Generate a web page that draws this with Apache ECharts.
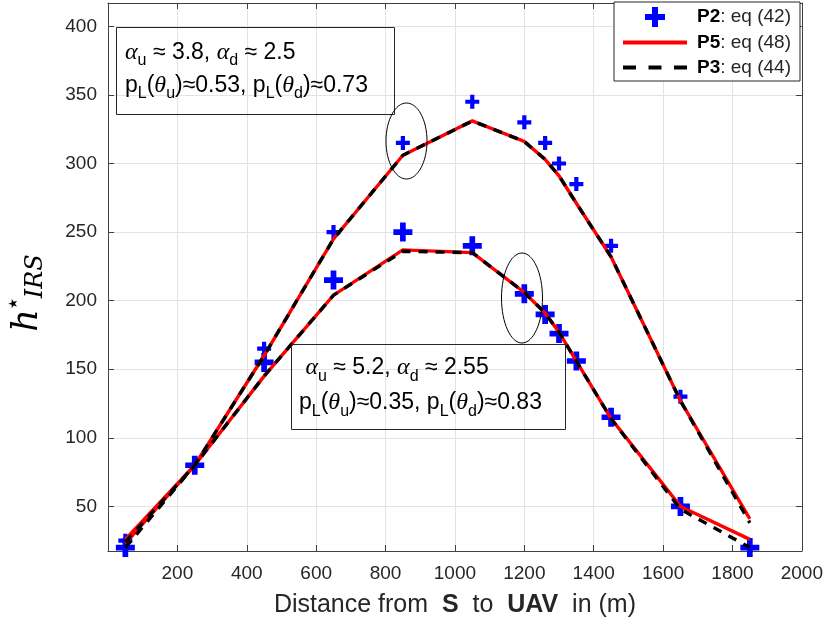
<!DOCTYPE html>
<html><head><meta charset="utf-8">
<script src="https://cdn.jsdelivr.net/npm/echarts@6/dist/echarts.min.js"></script>
<style>html,body{margin:0;padding:0;background:#fff}#c{width:826px;height:628px}</style>
</head><body><div id="c"></div>
<script>
// ---- data ----
const distance = [50, 250, 450, 650, 850, 1050, 1200, 1260, 1300, 1350, 1450, 1650, 1850];
const p2Upper = [25, 80, 165, 250, 315, 345, 330, 315, 300, 285, 240, 130, null];
const p2Lower = [20, 80, 155, 215, 250, 240, 205, 190, 176, 156, 115, 50, 20];
const p5Upper = [26, 80, 160, 245, 306, 331, 316, 303, 291, 271, 232, 127, 41];
const p5Lower = [23, 80, 145, 204, 237, 235, 206, 191, 177, 156, 114, 50, 26];
const p3Upper = [24, 80, 160, 245, 306, 331, 316, 303, 291, 271, 232, 127, 38];
const p3Lower = [20, 80, 145, 204, 236, 235, 206, 191, 177, 156, 114, 48, 20];
const legendNames = ['P2', 'P5', 'P3'];
const legendEqs = ['42', '48', '44'];
const xRange = [0, 2000];
const yRange = [17.5, 417];

const pairs = arr => distance.map((x, i) => [x, arr[i]]).filter(p => p[1] != null);
const PLUS = 'path://M3.5,0H6.5V3.5H10V6.5H6.5V10H3.5V6.5H0V3.5H3.5Z';
const SANS = 'Liberation Sans';
const SERIF = 'Liberation Serif';
const MATH = 'DejaVu Serif';
const AX = '#404040';

const chart = echarts.init(document.getElementById('c'), null, {renderer: 'canvas'});

const lineSeries = (name, data, color, width, type, z) => ({
  name, type: 'line', data, symbol: 'none', z, silent: true,
  lineStyle: {color, width, type, cap: 'butt', join: 'miter'},
  itemStyle: {color}
});

const axisCommon = {
  axisLine: {show: true, onZero: false, lineStyle: {color: AX, width: 1}},
  axisTick: {show: true, inside: true, length: 6, lineStyle: {color: AX}},
};
const plain = v => String(v);

chart.setOption({
  animation: false,
  backgroundColor: '#fff',
  grid: {left: 108, right: 24, top: 3, bottom: 77, containLabel: false},
  xAxis: [{
    type: 'value', min: xRange[0], max: xRange[1], interval: 200, position: 'bottom',
    ...axisCommon,
    splitLine: {show: true, lineStyle: {color: '#e3e3e3', width: 1}},
    axisLabel: {show: true, showMinLabel: false, margin: 13, color: '#262626', fontSize: 19, fontFamily: SANS, formatter: plain},
    name: '{n|Distance from  }{b|S}{n|  to  }{b|UAV}{n|  in (m)}',
    nameLocation: 'middle', nameGap: 42,
    nameTextStyle: {rich: {
      n: {fontSize: 25, fontFamily: SANS, color: '#262626'},
      b: {fontSize: 25, fontFamily: SANS, fontWeight: 'bold', color: '#262626'}
    }}
  }, {
    type: 'value', min: xRange[0], max: xRange[1], interval: 200, position: 'top',
    ...axisCommon, splitLine: {show: false}, axisLabel: {show: false}
  }],
  yAxis: [{
    type: 'value', min: yRange[0], max: yRange[1], splitNumber: 8, position: 'left',
    ...axisCommon,
    splitLine: {show: true, lineStyle: {color: '#e3e3e3', width: 1}},
    axisLabel: {show: true, showMinLabel: false, showMaxLabel: false, margin: 11, color: '#262626', fontSize: 19, fontFamily: SANS, formatter: plain}
  }, {
    type: 'value', min: yRange[0], max: yRange[1], splitNumber: 8, position: 'right',
    ...axisCommon, splitLine: {show: false}, axisLabel: {show: false}
  }],
  legend: {
    data: [
      {name: 'P2', icon: PLUS},
      {name: 'P5', itemStyle: {opacity: 0}, lineStyle: {width: 4, color: '#ff0000'}},
      {name: 'P3', itemStyle: {opacity: 0}, lineStyle: {width: 4, color: '#000000', type: [13, 12.5], cap: 'butt'}}
    ],
    orient: 'vertical', left: 614, top: 2,
    itemWidth: 64, itemHeight: 20, itemGap: 6,
    backgroundColor: '#fff', borderColor: '#262626', borderWidth: 1, borderRadius: 0,
    padding: [5, 9, 4, 7],
    selectedMode: false,
    formatter: n => `{b|${n}}{r|: eq (${legendEqs[legendNames.indexOf(n)]})}`,
    textStyle: {rich: {
      b: {fontSize: 19, fontFamily: SANS, fontWeight: 'bold', color: '#000', padding: [0, 0, 0, 5]},
      r: {fontSize: 19, fontFamily: SANS, color: '#262626'}
    }}
  },
  series: [
    {name: 'P2', type: 'scatter', data: pairs(p2Upper), symbol: PLUS, symbolSize: 14, z: 2, itemStyle: {color: '#0000ff', opacity: 1}, silent: true},
    {name: 'P2', type: 'scatter', data: pairs(p2Lower), symbol: PLUS, symbolSize: 19, z: 2, itemStyle: {color: '#0000ff', opacity: 1}, silent: true},
    lineSeries('P5', pairs(p5Upper), '#ff0000', 3.4, 'solid', 3),
    lineSeries('P5', pairs(p5Lower), '#ff0000', 3.4, 'solid', 3),
    lineSeries('P3', pairs(p3Upper), '#000000', 3.4, [9, 8], 4),
    lineSeries('P3', pairs(p3Lower), '#000000', 3.4, [9, 8], 4)
  ],
  graphic: [
    // annotation boxes
    {type: 'rect', shape: {x: 116.5, y: 27.5, width: 278, height: 87}, style: {fill: 'none', stroke: '#262626', lineWidth: 1}, z: 10, silent: true},
    {type: 'text', x: 125, y: 36, z: 11, silent: true, style: {
      text: '{g|α}{s|u}{t| ≈ 3.8, }{g|α}{s|d}{t| ≈ 2.5}\n{t|p}{s|L}{t|(}{g|θ}{s|u}{t|)≈0.53, p}{s|L}{t|(}{g|θ}{s|d}{t|)≈0.73}',
      rich: {
        t: {fontSize: 23, fontFamily: SANS, fill: '#000', lineHeight: 33},
        g: {fontSize: 24, fontFamily: SERIF, fontStyle: 'italic', fill: '#000', lineHeight: 33},
        s: {fontSize: 16, fontFamily: SANS, fill: '#000', lineHeight: 14, verticalAlign: 'bottom'}
      }
    }},
    {type: 'rect', shape: {x: 291.5, y: 344.5, width: 274, height: 85}, style: {fill: 'none', stroke: '#262626', lineWidth: 1}, z: 10, silent: true},
    {type: 'text', x: 299, y: 350, z: 11, silent: true, style: {
      text: '{t| }{g|α}{s|u}{t| ≈ 5.2, }{g|α}{s|d}{t| ≈ 2.55}\n{t|p}{s|L}{t|(}{g|θ}{s|u}{t|)≈0.35, p}{s|L}{t|(}{g|θ}{s|d}{t|)≈0.83}',
      rich: {
        t: {fontSize: 23, fontFamily: SANS, fill: '#000', lineHeight: 35},
        g: {fontSize: 24, fontFamily: SERIF, fontStyle: 'italic', fill: '#000', lineHeight: 35},
        s: {fontSize: 16, fontFamily: SANS, fill: '#000', lineHeight: 14, verticalAlign: 'bottom'}
      }
    }},
    // ellipses
    {type: 'ellipse', shape: {cx: 406.5, cy: 141, rx: 20.5, ry: 38}, style: {fill: 'none', stroke: '#000', lineWidth: 1}, z: 10, silent: true},
    {type: 'ellipse', shape: {cx: 522, cy: 298, rx: 20.5, ry: 45}, style: {fill: 'none', stroke: '#000', lineWidth: 1}, z: 10, silent: true},
    // y-axis title
    {type: 'text', x: 28, y: 293, rotation: Math.PI / 2, z: 11, silent: true, style: {
      text: '{h|h}{sup|★}{sub|IRS}', align: 'center', verticalAlign: 'middle',
      rich: {
        h: {fontSize: 35, fontFamily: MATH, fontStyle: 'italic', fill: '#000', lineHeight: 40},
        sup: {fontSize: 12, fontFamily: 'DejaVu Sans', fill: '#000', lineHeight: 16, verticalAlign: 'top'},
        sub: {fontSize: 24, fontFamily: MATH, fontStyle: 'italic', fill: '#000', lineHeight: 12, verticalAlign: 'bottom'}
      }
    }}
  ]
});
</script></body></html>
